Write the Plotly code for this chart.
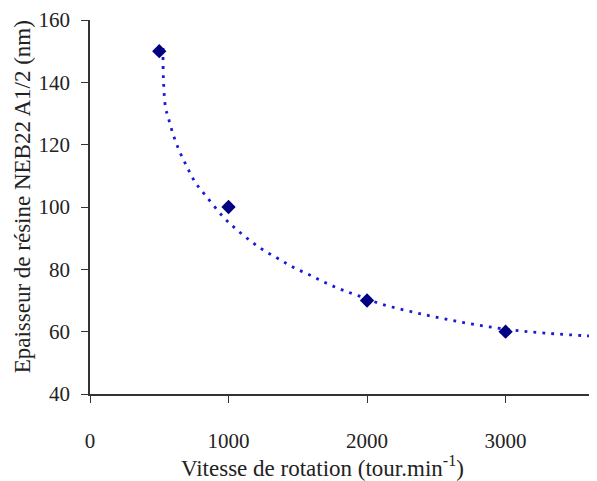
import plotly.graph_objects as go

# Measured data points
speed = [500, 1000, 2000, 3000]
thickness = [150, 100, 70, 60]

# Trend curve
trend_x = [527, 530, 545, 565, 600, 645, 700, 760, 840, 960, 1050, 1150, 1250,
           1360, 1470, 1590, 1700, 1820, 1940, 2100, 2400, 2700, 3000, 3300, 3650]
trend_y = [151, 141, 132, 128.7, 123.3, 118, 112.9, 107.9, 103.4, 96.9, 93.1, 89.4, 86.2,
           83.4, 80.6, 78.1, 75.7, 73.4, 71.5, 68.9, 65.6, 62.9, 60.8, 59.5, 58.5]

x_ticks = [0, 1000, 2000, 3000]
y_ticks = [40, 60, 80, 100, 120, 140, 160]

FONT = "Liberation Serif"
TXT = "#222222"

fig = go.Figure()
fig.add_trace(go.Scatter(
    x=trend_x, y=trend_y, mode="lines",
    line=dict(color="#1a1ad6", width=2.8, dash="2.8px,6.2px", shape="spline"),
    hoverinfo="skip", showlegend=False))
fig.add_trace(go.Scatter(
    x=speed, y=thickness, mode="markers",
    marker=dict(symbol="diamond", color="#000080", size=11),
    showlegend=False))

fig.update_layout(
    width=589, height=473,
    margin=dict(l=82, r=0, t=8, b=87),
    plot_bgcolor="white", paper_bgcolor="white",
    font=dict(family=FONT, size=21, color=TXT),
    xaxis=dict(range=[0, 3660], tickvals=x_ticks, ticktext=[str(v) for v in x_ticks],
               showgrid=False, zeroline=False, showline=True, linecolor="#333333",
               linewidth=1.5, ticks="outside", ticklen=7, tickwidth=1.2, tickcolor="#333333",
               ticklabelstandoff=20, ticklabeloverflow="allow",
               tickfont=dict(family=FONT, size=21, color=TXT)),
    yaxis=dict(range=[40, 160.001], tickvals=y_ticks, ticktext=[str(v) for v in y_ticks],
               showgrid=False, zeroline=False, showline=True, linecolor="#333333",
               linewidth=1.5, ticks="outside", ticklen=7, tickwidth=1.2, tickcolor="#333333",
               ticklabelstandoff=7, ticklabeloverflow="allow",
               tickfont=dict(family=FONT, size=21, color=TXT)),
    annotations=[
        dict(text="Vitesse de rotation (tour.min<sup>-1</sup>)", xref="paper", yref="paper",
             x=0.458, y=-0.193, xanchor="center", yanchor="middle", showarrow=False,
             font=dict(family=FONT, size=23, color=TXT)),
        dict(text="Epaisseur de résine NEB22 A1/2 (nm)", xref="paper", yref="paper",
             x=-0.134, y=0.526, xanchor="center", yanchor="middle", showarrow=False,
             textangle=-90, font=dict(family=FONT, size=23, color=TXT)),
    ],
)

fig.write_html("out.html")
